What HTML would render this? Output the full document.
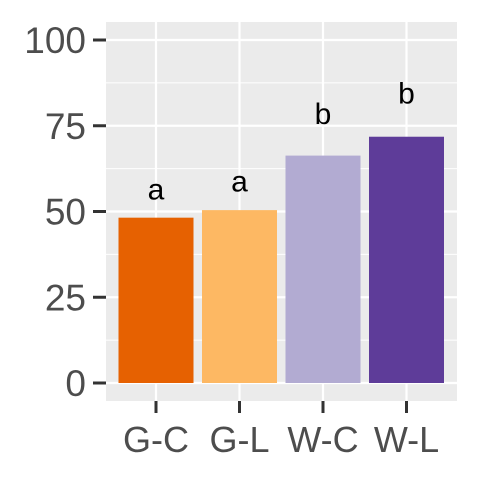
<!DOCTYPE html>
<html><head><meta charset="utf-8"><style>body{margin:0;background:#fff}svg{display:block}</style></head>
<body>
<svg id="c" width="480" height="480" xmlns="http://www.w3.org/2000/svg"></svg>
<script>
const categories = ["G-C","G-L","W-C","W-L"];
const values = [48.2, 50.4, 66.3, 71.8];
const letters = ["a","a","b","b"];
const letterPos = [53.5, 55.8, 75.5, 81.5];
const colors = ["#e66101","#fdb863","#b2abd2","#5e3c99"];
const yTicks = [0,25,50,75,100];

const NS="http://www.w3.org/2000/svg";
const svg=document.getElementById('c');
const L=106,R=457,T=22,B=401;
const y=v=>383-v*3.43;
const x=i=>156+i*83.5;
function el(t,a,p){const e=document.createElementNS(NS,t);for(const k in a)e.setAttribute(k,a[k]);(p||svg).appendChild(e);return e;}
const panel=el('rect',{x:L,y:T,width:R-L,height:B-T,fill:'#ebebeb'});


for(let i=0;i<yTicks.length-1;i++){const m=(yTicks[i]+yTicks[i+1])/2;el('line',{x1:L,x2:R,y1:y(m),y2:y(m),stroke:'#fff','stroke-width':1.1});}
yTicks.forEach(t=>{
  el('line',{x1:L,x2:R,y1:y(t),y2:y(t),stroke:'#fff','stroke-width':2.2});
  el('line',{x1:93,x2:106,y1:y(t),y2:y(t),stroke:'#333','stroke-width':3});
  const tx=el('text',{x:86,y:y(t)+13,'text-anchor':'end','font-size':37,fill:'#4d4d4d','font-family':'Liberation Sans, sans-serif'});
  tx.textContent=t;
  
  
});
categories.forEach((c,i)=>{
  el('line',{x1:x(i),x2:x(i),y1:T,y2:B,stroke:'#fff','stroke-width':2.2});
});
categories.forEach((c,i)=>{
  const b=el('rect',{x:x(i)-37.5,y:y(values[i]),width:75,height:y(0)-y(values[i]),fill:colors[i]});
  
  
  const lt=el('text',{x:x(i),y:y(letterPos[i]),'text-anchor':'middle','font-size':30,fill:'#000','font-family':'Liberation Sans, sans-serif'});
  lt.textContent=letters[i];
  
  
  el('line',{x1:x(i),x2:x(i),y1:B,y2:413,stroke:'#333','stroke-width':3});
  const xt=el('text',{x:x(i),y:452,'text-anchor':'middle','font-size':36,fill:'#4d4d4d','font-family':'Liberation Sans, sans-serif'});
  xt.textContent=c;
  
  
});
</script>
</body></html>
